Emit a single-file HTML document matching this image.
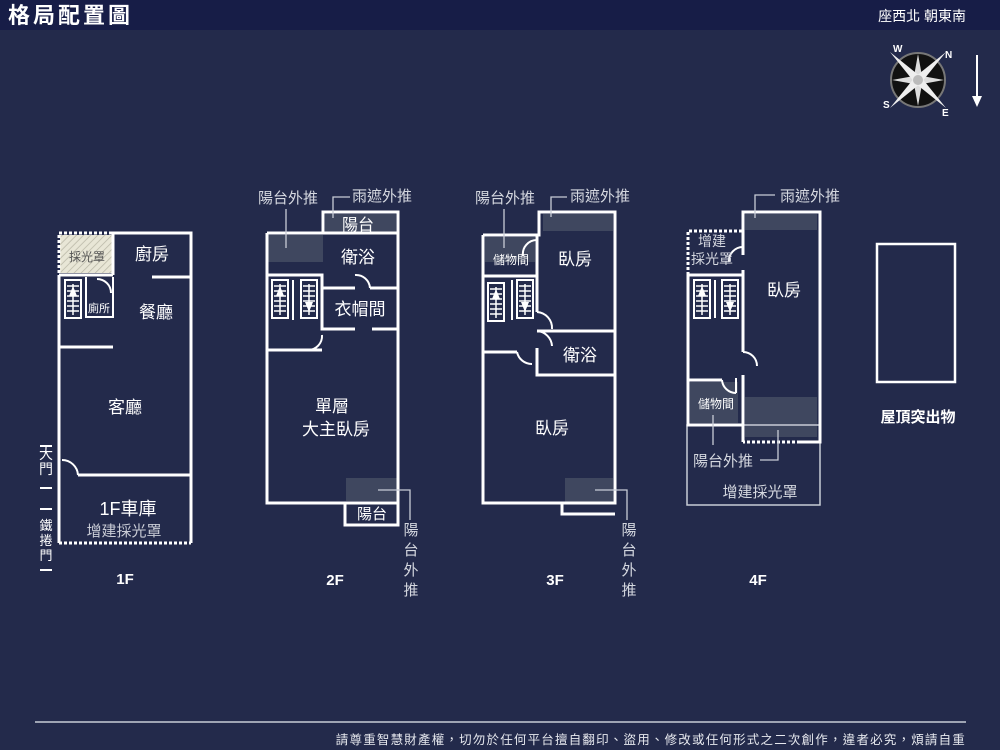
<!DOCTYPE html>
<html><head><meta charset="utf-8"><style>
html,body{margin:0;padding:0;background:#232a4b;}
svg{display:block}
text{font-family:"Liberation Sans","Noto Sans CJK TC",sans-serif;fill:#fff}
.w{stroke:#fff;stroke-width:3;fill:none}
.t{stroke:#fff;stroke-width:2;fill:none}
.g{stroke:#c8ccd6;stroke-width:1.3;fill:none}
.d{stroke:#fff;stroke-width:3;fill:none;stroke-dasharray:3 2}
.sh{fill:#4a5266;opacity:.75}
</style></head><body>
<svg width="1000" height="750" viewBox="0 0 1000 750" xmlns="http://www.w3.org/2000/svg">
<defs>
<pattern id="hatch" width="5" height="5" patternUnits="userSpaceOnUse" patternTransform="rotate(45)">
<rect width="5" height="5" fill="#e8e6d6"/><line x1="0" y1="0" x2="0" y2="5" stroke="#b9b7a6" stroke-width="1.5"/></pattern>
<g id="st"><rect x="0" y="0" width="16" height="38" fill="#232a4b" stroke="#fff" stroke-width="2"/>
<g stroke="#fff" stroke-width="1.5"><line x1="2" y1="6" x2="14" y2="6"/><line x1="2" y1="11" x2="14" y2="11"/><line x1="2" y1="16" x2="14" y2="16"/><line x1="2" y1="21" x2="14" y2="21"/><line x1="2" y1="26" x2="14" y2="26"/><line x1="2" y1="31" x2="14" y2="31"/><line x1="8" y1="4" x2="8" y2="35"/></g></g>
<g id="su"><use href="#st"/><polygon points="8,6 4,16 12,16" fill="#fff"/></g>
<g id="sd"><use href="#st"/><polygon points="8,32 4,22 12,22" fill="#fff"/></g>
</defs>
<rect x="0" y="0" width="1000" height="750" fill="#232a4b"/>
<rect x="0" y="0" width="1000" height="30" fill="#171d47"/>
<text x="8" y="23" font-size="22" font-weight="bold" letter-spacing="3">格局配置圖</text>
<text x="966" y="21" font-size="14" text-anchor="end">座西北 朝東南</text>
<g transform="translate(918,80)">
<circle r="27" fill="#111" stroke="#777" stroke-width="2"/>
<polygon points="0,-26 4,-4 26,0 4,4 0,26 -4,4 -26,0 -4,-4" fill="#ddd"/>
<polygon points="-28,-28 -3,3 28,28 3,-3" fill="#eee"/>
<polygon points="28,-28 3,3 -28,28 -3,-3" fill="#eee"/>
<circle r="5" fill="#bbb"/>
<text x="-25" y="-28" font-size="10" font-weight="bold">W</text>
<text x="27" y="-22" font-size="10" font-weight="bold">N</text>
<text x="-35" y="28" font-size="10" font-weight="bold">S</text>
<text x="24" y="36" font-size="10" font-weight="bold">E</text>
</g>
<line x1="977" y1="55" x2="977" y2="98" stroke="#fff" stroke-width="2"/>
<polygon points="972,96 982,96 977,107" fill="#fff"/>

<!-- 1F -->
<rect x="60" y="235" width="53" height="38" fill="url(#hatch)"/>
<text x="87" y="261" font-size="12" text-anchor="middle" style="fill:#555">採光罩</text>
<path class="d" d="M59,273 V233 H113"/>
<path class="w" d="M113,275 V233 H191 V543"/>
<path class="w" d="M59,275 V543"/>
<line class="d" x1="59" y1="543" x2="191" y2="543"/>
<line class="w" x1="59" y1="275" x2="113" y2="275"/>
<line class="w" x1="152" y1="277" x2="191" y2="277"/>
<path class="t" d="M86,277 V317 H113 V277"/>
<path class="t" d="M97,279 A14,14 0 0 1 111,293"/>
<use href="#su" x="65" y="280"/>
<line class="w" x1="59" y1="347" x2="113" y2="347"/>
<line class="w" x1="78" y1="475" x2="191" y2="475"/>
<path class="t" d="M62,460 A16,16 0 0 1 78,475"/>
<text x="99" y="312" font-size="11" text-anchor="middle">廁所</text>
<text x="152" y="260" font-size="17" text-anchor="middle">廚房</text>
<text x="156" y="318" font-size="17" text-anchor="middle">餐廳</text>
<text x="125" y="413" font-size="17" text-anchor="middle">客廳</text>
<text x="128" y="515" font-size="18" text-anchor="middle">1F車庫</text>
<text x="124" y="536" font-size="15" text-anchor="middle" style="fill:#c9ccd6">增建採光罩</text>
<text font-size="14" text-anchor="middle"><tspan x="46" y="459">大</tspan><tspan x="46" y="474">門</tspan></text>
<text font-size="13" text-anchor="middle"><tspan x="46" y="530">鐵</tspan><tspan x="46" y="545">捲</tspan><tspan x="46" y="560">門</tspan></text>
<g stroke="#fff" stroke-width="2" fill="none"><path d="M40,446 H52"/><path d="M40,488 H52"/><path d="M40,509 H52"/><path d="M40,570 H52"/></g>
<text x="125" y="584" font-size="15" font-weight="bold" text-anchor="middle">1F</text>

<!-- 2F -->
<rect class="sh" x="268" y="235" width="55" height="27"/>
<rect class="sh" x="325" y="214" width="71" height="18"/>
<rect class="sh" x="346" y="478" width="51" height="23"/>
<path class="w" d="M267,233 V503 H398 V212 H323 V233 H267"/>
<line class="w" x1="323" y1="233" x2="398" y2="233"/>
<path class="w" d="M345,503 V525 H398 V503"/>
<path class="w" d="M267,275 H322 V329 H355"/>
<line class="w" x1="372" y1="329" x2="398" y2="329"/>
<path class="w" d="M322,288 H355"/><path class="w" d="M370,288 H398"/>
<path class="t" d="M355,275 A14,14 0 0 1 370,288"/>
<line class="w" x1="267" y1="350" x2="322" y2="350"/>
<path class="t" d="M322,335 A14,14 0 0 1 308,350"/>
<line class="t" x1="293" y1="280" x2="293" y2="320"/>
<use href="#su" x="272" y="280"/>
<use href="#sd" x="301" y="280"/>
<text x="288" y="203" font-size="15" text-anchor="middle" style="fill:#d4d7df">陽台外推</text>
<line class="g" x1="286" y1="209" x2="286" y2="248"/>
<text x="382" y="201" font-size="15" text-anchor="middle" style="fill:#d4d7df">雨遮外推</text>
<path class="g" d="M350,197 H333 V218"/>
<text x="358" y="230" font-size="16" text-anchor="middle">陽台</text>
<text x="358" y="263" font-size="17" text-anchor="middle">衛浴</text>
<text x="360" y="315" font-size="17" text-anchor="middle">衣帽間</text>
<text x="332" y="412" font-size="17" text-anchor="middle">單層</text>
<text x="336" y="435" font-size="17" text-anchor="middle">大主臥房</text>
<text x="372" y="519" font-size="15" text-anchor="middle">陽台</text>
<path class="g" d="M378,490 H410 V520"/>
<text font-size="15" text-anchor="middle" style="fill:#d4d7df"><tspan x="411" y="535">陽</tspan><tspan x="411" y="555">台</tspan><tspan x="411" y="575">外</tspan><tspan x="411" y="595">推</tspan></text>
<text x="335" y="585" font-size="15" font-weight="bold" text-anchor="middle">2F</text>

<!-- 3F -->
<rect class="sh" x="485" y="237" width="50" height="25"/>
<rect class="sh" x="543" y="214" width="70" height="17"/>
<rect class="sh" x="565" y="478" width="48" height="24"/>
<path class="w" d="M483,235 V503 H615 V212 H539 V235 H483"/>
<path class="w" d="M562,503 V514 H615"/>
<path class="w" d="M483,276 H537 V235"/>
<path class="t" d="M537,240 A14,14 0 0 0 523,256" />
<path class="w" d="M537,276 V312"/>
<path class="t" d="M537,312 A16,16 0 0 1 552,329"/>
<path class="w" d="M537,331 H615"/>
<path class="w" d="M537,348 V375 H615"/>
<path class="t" d="M537,331 A16,16 0 0 1 552,346"/>
<path class="w" d="M483,352 H517"/>
<path class="t" d="M517,352 A15,15 0 0 0 532,364"/>
<line class="t" x1="512" y1="280" x2="512" y2="320"/>
<use href="#su" x="488" y="283"/>
<use href="#sd" x="517" y="280"/>
<text x="505" y="203" font-size="15" text-anchor="middle" style="fill:#d4d7df">陽台外推</text>
<line class="g" x1="504" y1="209" x2="504" y2="248"/>
<text x="600" y="201" font-size="15" text-anchor="middle" style="fill:#d4d7df">雨遮外推</text>
<path class="g" d="M567,197 H551 V217"/>
<text x="511" y="264" font-size="12" text-anchor="middle">儲物間</text>
<text x="575" y="265" font-size="17" text-anchor="middle">臥房</text>
<text x="580" y="361" font-size="17" text-anchor="middle">衛浴</text>
<text x="552" y="434" font-size="17" text-anchor="middle">臥房</text>
<path class="g" d="M595,490 H627 V520"/>
<text font-size="15" text-anchor="middle" style="fill:#d4d7df"><tspan x="629" y="535">陽</tspan><tspan x="629" y="555">台</tspan><tspan x="629" y="575">外</tspan><tspan x="629" y="595">推</tspan></text>
<text x="555" y="585" font-size="15" font-weight="bold" text-anchor="middle">3F</text>

<!-- 4F -->
<rect class="sh" x="745" y="214" width="72" height="16"/>
<rect class="sh" x="745" y="397" width="72" height="40"/>
<rect class="sh" x="690" y="382" width="48" height="41"/>
<rect x="687" y="425" width="133" height="80" fill="none" stroke="#c8ccd6" stroke-width="1.5"/>
<path class="d" d="M688,275 V231 H743"/>
<path class="w" d="M743,255 V212 H820 V442 H800"/>
<path class="d" d="M800,442 H743"/>
<path class="w" d="M743,270 V352"/><path class="w" d="M743,375 V442"/>
<path class="t" d="M743,247 A14,14 0 0 0 729,262"/>
<path class="t" d="M743,352 A14,14 0 0 1 757,366"/>
<path class="w" d="M688,275 H743"/>
<path class="w" d="M688,275 V425 H743"/>
<path class="w" d="M688,380 H722"/>
<path class="t" d="M722,380 A14,14 0 0 0 736,393"/>
<line class="t" x1="736" y1="378" x2="736" y2="393"/>
<line class="t" x1="715" y1="280" x2="715" y2="318"/>
<use href="#su" x="694" y="280"/>
<use href="#sd" x="722" y="280"/>
<text x="810" y="201" font-size="15" text-anchor="middle" style="fill:#d4d7df">雨遮外推</text>
<path class="g" d="M775,195 H755 V218"/>
<text x="712" y="246" font-size="14" text-anchor="middle" style="fill:#d4d7df">增建</text>
<text x="712" y="264" font-size="14" text-anchor="middle" style="fill:#d4d7df">採光罩</text>
<text x="784" y="296" font-size="17" text-anchor="middle">臥房</text>
<text x="716" y="408" font-size="12" text-anchor="middle">儲物間</text>
<line class="g" x1="713" y1="415" x2="713" y2="445"/>
<text x="723" y="466" font-size="15" text-anchor="middle" style="fill:#d4d7df">陽台外推</text>
<path class="g" d="M760,460 H778 V430"/>
<text x="760" y="497" font-size="15" text-anchor="middle" style="fill:#d4d7df">增建採光罩</text>
<text x="758" y="585" font-size="15" font-weight="bold" text-anchor="middle">4F</text>

<rect x="877" y="244" width="78" height="138" fill="none" stroke="#fff" stroke-width="2.5"/>
<text x="918" y="422" font-size="15" font-weight="bold" text-anchor="middle">屋頂突出物</text>

<line x1="35" y1="722" x2="966" y2="722" stroke="#c8ccd6" stroke-width="1.5"/>
<text x="966" y="744" font-size="12.5" text-anchor="end" letter-spacing="1.2" style="fill:#e6e8ee">請尊重智慧財產權，切勿於任何平台擅自翻印、盜用、修改或任何形式之二次創作，違者必究，煩請自重</text>
</svg>
</body></html>
